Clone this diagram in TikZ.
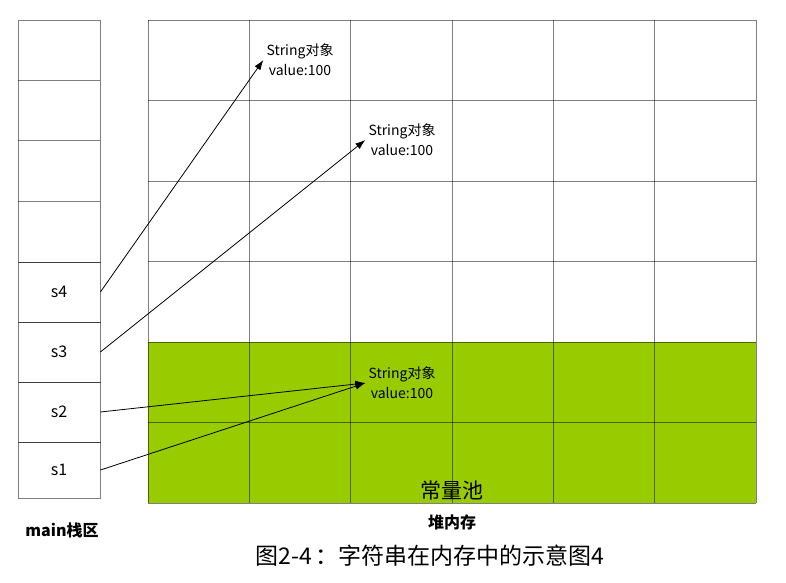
\documentclass[tikz,border=0pt]{standalone}
\usepackage{fontspec}
\setmainfont{Noto Sans CJK SC}
\usetikzlibrary{arrows.meta}
\definecolor{poolgreen}{HTML}{99CC00}
\tikzset{
  line/.style={draw=black, draw opacity=.5, line width=.8pt},
  cell/.style={line, minimum width=82pt, minimum height=60pt, inner sep=0pt, font=\fontsize{16}{18}\selectfont},
  obj/.style={align=center, inner sep=3pt, font=\fontsize{14}{20}\selectfont},
  ref/.style={-{Latex[length=10pt,width=7pt]}, line width=.8pt},
}
\begin{document}
\begin{tikzpicture}[x=1pt,y=-1pt]
      \useasboundingbox (0,0) rectangle (786,582);
      % stack
      \draw [line] (18,20) rectangle (100,262);
      \foreach \y in {80,140,201} \draw [line] (18,\y) -- (100,\y);
      \node [cell] (s4) at (59,292) {s4};
      \node [cell] (s3) at (59,352) {s3};
      \node [cell] (s2) at (59,412) {s2};
      \node [cell, minimum height=56pt] (s1) at (59,470) {s1};
      \node [font=\fontsize{16}{18}\selectfont\bfseries] (stack) at (62,530) {main栈区};
      % heap
      \fill [poolgreen] (148,342) rectangle (756,503);
      \foreach \i in {0,...,6} \draw [line] (148+101.33*\i,20) -- (148+101.33*\i,503);
      \foreach \j in {0,...,6} \draw [line] (148,20+80.5*\j) -- (756,20+80.5*\j);
      \node [obj] (obj1) at (300,60) {String对象\\value:100};
      \node [obj] (obj2) at (402,140) {String对象\\value:100};
      \node [obj] (obj3) at (402,383) {String对象\\value:100};
      \node [font=\fontsize{21}{24}\selectfont] (pool) at (452,490) {常量池};
      \node [font=\fontsize{16}{18}\selectfont\bfseries] (heap) at (452,522) {堆内存};
      \node [font=\fontsize{23}{24}\selectfont] (caption) at (430,556) {图2-4\,：字符串在内存中的示意图4};
      % references
      \draw [ref] (s4.east) -- (obj1.west);
      \draw [ref] (s3.east) -- (obj2.west);
      \draw [ref] (s2.east) -- (obj3.west);
      \draw [ref] (s1.east) -- (obj3.west);
    \end{tikzpicture}
\end{document}
